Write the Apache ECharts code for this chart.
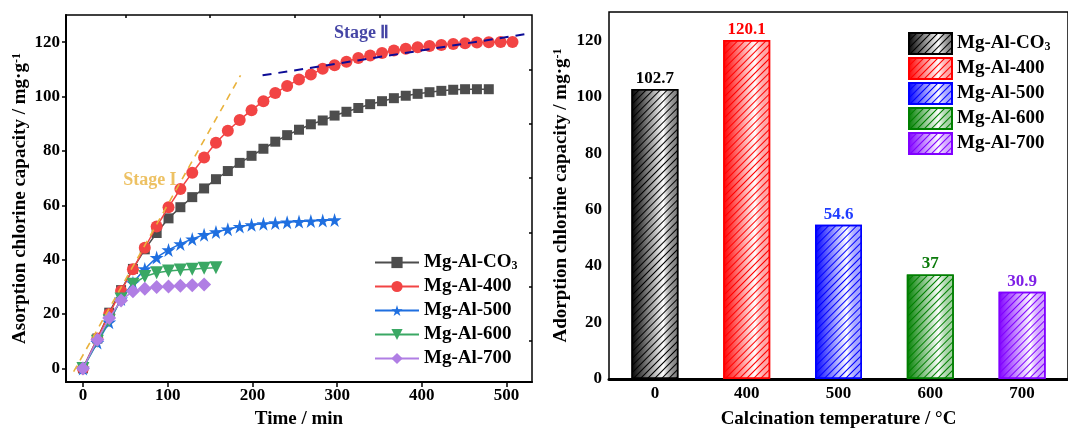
<!DOCTYPE html>
<html>
<head>
<meta charset="utf-8">
<script src="https://cdn.jsdelivr.net/npm/echarts@6/dist/echarts.min.js"></script>
<style>html,body{margin:0;padding:0;background:#fff}#c{width:1068px;height:434px}</style>
</head>
<body>
<div id="c"></div>
<script>
// ---------- data ----------
const times = [0,17,31,45,59,73,87,101,115,129,143,157,171,185,199,213,227,241,255,269,283,297,311,325,339,353,367,381,395,409,423,437,451,465,479,493,507];
const seriesNames = ['Mg-Al-CO3','Mg-Al-400','Mg-Al-500','Mg-Al-600','Mg-Al-700'];
const valsCO3 = [0,11,20.5,28.8,36.6,43.8,49.8,55.2,59.3,63,66.2,69.6,72.6,75.6,78.2,80.8,83.4,85.8,87.8,89.8,91.2,93,94.4,95.8,97.2,98.3,99.4,100.3,101,101.6,102.1,102.5,102.7,102.7,102.7];
const vals400 = [0,11,20,28.5,36.5,44.4,52.2,59.3,66,72,77.6,83,87.4,91.4,95,98.3,101.3,103.9,106.3,108.1,110.2,111.5,112.8,114.2,115.1,116,116.9,117.6,118.1,118.6,119,119.3,119.6,119.9,120,120.1,120.1];
const vals500 = [0,9.5,17,25.5,31.5,36.6,40.8,43.6,45.8,47.6,49.2,50.2,51.2,52.2,52.8,53.2,53.5,53.8,54,54.2,54.4,54.6];
const vals600 = [0,10,17.5,25.5,31,33.8,35.2,35.8,36.2,36.5,36.8,37];
const vals700 = [0,10.5,18.5,25,28.4,29.3,29.9,30.1,30.4,30.6,30.9];
const stage1Line = [[-11,-1.2],[186,107.8]];
const stage2Line = [[212,107.8],[527,123.2]];
const stageLabels = [{text:'Stage I', t:79, v:69}, {text:'Stage Ⅱ', t:329, v:123.2}];
const timeTicks = [0,100,200,300,400,500];
const timeMinor = [50,150,250,350,450];
const capTicks = [0,20,40,60,80,100,120];
const capMinor = [10,30,50,70,90,110];
const tempLabels = ['0','400','500','600','700'];
const capacities = [102.7,120.1,54.6,37,30.9];

// ---------- styles ----------
const FONT = "'Liberation Serif','Times New Roman',serif";
const lineColors = ['#4d4d4d','#f24444','#1f6fe0','#3aa864','#b07ee4'];
const lineSymbols = ['rect','circle','path://M50,0 L61,35 L98,35 L68,57 L79,91 L50,70 L21,91 L32,57 L2,35 L39,35 Z','triangle','diamond'];
const lineSymbolSizes = [10,12,14,13,14];
const lineSymbolRotate = [0,0,0,180,0];
const barColors = ['#000000','#ff0000','#0000ff','#007f00','#8000ff'];
const barLabelColors = ['#000000','#ff0000','#1f3cff','#0a7a0a','#7f20e6'];
const barFade = ['rgba(0,0,0,0.5)','rgba(255,0,0,0.3)','rgba(0,0,255,0.3)','rgba(0,127,0,0.3)','rgba(128,0,255,0.3)'];
const allVals = [valsCO3, vals400, vals500, vals600, vals700];
const barNames = seriesNames.map(n => n + '\u200b');
const stageColors = ['#e9b23c','#16168e'];

function legendFmt(name){
  const n = name.replace('\u200b','');
  return n === 'Mg-Al-CO3' ? 'Mg-Al-CO{sub|3}' : n;
}
const boldText = {fontFamily:FONT, fontWeight:'bold', color:'#000'};

const series = [];
allVals.forEach((vals, i) => {
  series.push({
    name: seriesNames[i], type:'line', xAxisIndex:0, yAxisIndex:0,
    data: vals.map((v, k) => [times[k], v]),
    symbol: lineSymbols[i], symbolSize: lineSymbolSizes[i], symbolRotate: lineSymbolRotate[i],
    showSymbol:true, showAllSymbol:true,
    lineStyle:{color:lineColors[i], width:1.5},
    itemStyle:{color:lineColors[i]},
    z: 2 + i
  });
});
series.push({type:'line', xAxisIndex:0, yAxisIndex:0, data:stage1Line, showSymbol:false, silent:true,
  lineStyle:{color:stageColors[0], width:1.6, type:[7,6]}, z:10});
series.push({type:'line', xAxisIndex:0, yAxisIndex:0, data:stage2Line, showSymbol:false, silent:true,
  lineStyle:{color:'#0c0c96', width:2, type:[9,7]}, z:10});
series.push({type:'scatter', xAxisIndex:0, yAxisIndex:0, symbolSize:0, silent:true, z:11,
  data: stageLabels.map((s, i) => ({value:[s.t, s.v], name:s.text, label:{color:stageColors[i]}})),
  label:{show:true, position:'inside', formatter: p => p.name, fontFamily:FONT, fontWeight:'bold', fontSize:18}
});

capacities.forEach((c, i) => {
  series.push({
    name: barNames[i], type:'bar', xAxisIndex:2, yAxisIndex:2,
    data: tempLabels.map((_, j) => j === i ? c : '-'),
    barWidth:47, barGap:'-100%',
    itemStyle:{
      color: new echarts.graphic.LinearGradient(0,0,1,0,[
        {offset:0, color:barColors[i]},
        {offset:0.68, color:'#ffffff'},
        {offset:1, color:barFade[i]}
      ]),
      borderColor: barColors[i], borderWidth:1.5,
      decal:{symbol:'rect', symbolSize:1, dashArrayX:[1,0], dashArrayY:[1,3.5], rotation:-Math.PI/4, color:barColors[i]}
    },
    label:{show:true, position:'top', distance:2, fontFamily:FONT, fontWeight:'bold', fontSize:17, color:barLabelColors[i]}
  });
});

const legendText = Object.assign({fontSize:19, rich:{sub:{fontSize:12, fontFamily:FONT, fontWeight:'bold', verticalAlign:'bottom', padding:[6,0,0,0]}}}, boldText);
const supRich = {sup:{fontSize:12, fontFamily:FONT, fontWeight:'bold', verticalAlign:'top'}};

const option = {
  animation:false,
  backgroundColor:'#fff',
  grid:[
    {left:66, right:536, top:15, bottom:44, show:true, borderColor:'#000', borderWidth:1.5},
    {left:609, right:-6, top:12, bottom:45, show:true, borderColor:'#000', borderWidth:1.5}
  ],
  legend:[
    {data:seriesNames, orient:'vertical', left:369, top:248, itemWidth:44, itemHeight:14, itemGap:5,
     formatter:legendFmt, textStyle:legendText},
    {data:barNames, orient:'vertical', left:903, top:27, itemWidth:43, itemHeight:21, itemGap:2, icon:'rect',
     formatter:legendFmt, textStyle:legendText}
  ],
  xAxis:[
    {gridIndex:0, type:'value', min:-20, max:530, name:'Time / min', nameLocation:'middle', nameGap:28,
     nameTextStyle:Object.assign({fontSize:19}, boldText),
     axisLine:{onZero:false, lineStyle:{color:'#000', width:2}},
     axisTick:{customValues:timeTicks, length:5, lineStyle:{color:'#000', width:1.5}},
     axisLabel:{customValues:timeTicks, margin:5, fontSize:17, fontFamily:FONT, fontWeight:'bold', color:'#000'},
     splitLine:{show:false}},
    {gridIndex:0, type:'value', min:-20, max:530, axisLine:{show:false, onZero:false},
     axisTick:{customValues:timeMinor, length:3, inside:true, lineStyle:{color:'#000', width:1.5}},
     axisLabel:{show:false}, splitLine:{show:false}},
    {gridIndex:1, type:'category', data:tempLabels, name:'Calcination temperature / °C', nameLocation:'middle', nameGap:31,
     nameTextStyle:Object.assign({fontSize:19}, boldText),
     axisLine:{onZero:false, lineStyle:{color:'#000', width:3}},
     axisTick:{alignWithLabel:true, inside:true, length:5, lineStyle:{color:'#000', width:1.5}},
     axisLabel:{margin:6, fontSize:17, fontFamily:FONT, fontWeight:'bold', color:'#000'}},
    {gridIndex:1, type:'category', data:tempLabels, axisLine:{show:false, onZero:false},
     axisTick:{alignWithLabel:false, inside:true, length:3, lineStyle:{color:'#000', width:1.5}},
     axisLabel:{show:false}}
  ],
  yAxis:[
    {gridIndex:0, type:'value', min:-5, max:130, name:'Asorption chlorine capacity / mg·g{sup|-1}', nameLocation:'middle', nameGap:36,
     nameTextStyle:Object.assign({fontSize:19, rich:supRich}, boldText),
     axisLine:{onZero:false, lineStyle:{color:'#000', width:2}},
     axisTick:{customValues:capTicks, length:4, lineStyle:{color:'#000', width:1.5}},
     axisLabel:{customValues:capTicks, margin:6, fontSize:17, fontFamily:FONT, fontWeight:'bold', color:'#000'},
     splitLine:{show:false}},
    {gridIndex:0, type:'value', min:-5, max:130, axisLine:{show:false, onZero:false},
     axisTick:{customValues:capMinor, length:3, inside:true, lineStyle:{color:'#000', width:1.5}},
     axisLabel:{show:false}, splitLine:{show:false}},
    {gridIndex:1, type:'value', min:0, max:130, name:'Adorption chlorine capacity / mg·g{sup|-1}', nameLocation:'middle', nameGap:38,
     nameTextStyle:Object.assign({fontSize:19, rich:supRich}, boldText),
     axisLine:{onZero:false, lineStyle:{color:'#000', width:2}},
     axisTick:{customValues:capTicks, length:5, lineStyle:{color:'#000', width:1.5}},
     axisLabel:{customValues:capTicks, margin:7, fontSize:17, fontFamily:FONT, fontWeight:'bold', color:'#000'},
     splitLine:{show:false}},
    {gridIndex:1, type:'value', min:0, max:130, axisLine:{show:false, onZero:false},
     axisTick:{customValues:capMinor, length:3, inside:true, lineStyle:{color:'#000', width:1.5}},
     axisLabel:{show:false}, splitLine:{show:false}}
  ],
  series: series
};
const chart = echarts.init(document.getElementById('c'), null, {renderer:'canvas'});
chart.setOption(option);
</script>
</body>
</html>
